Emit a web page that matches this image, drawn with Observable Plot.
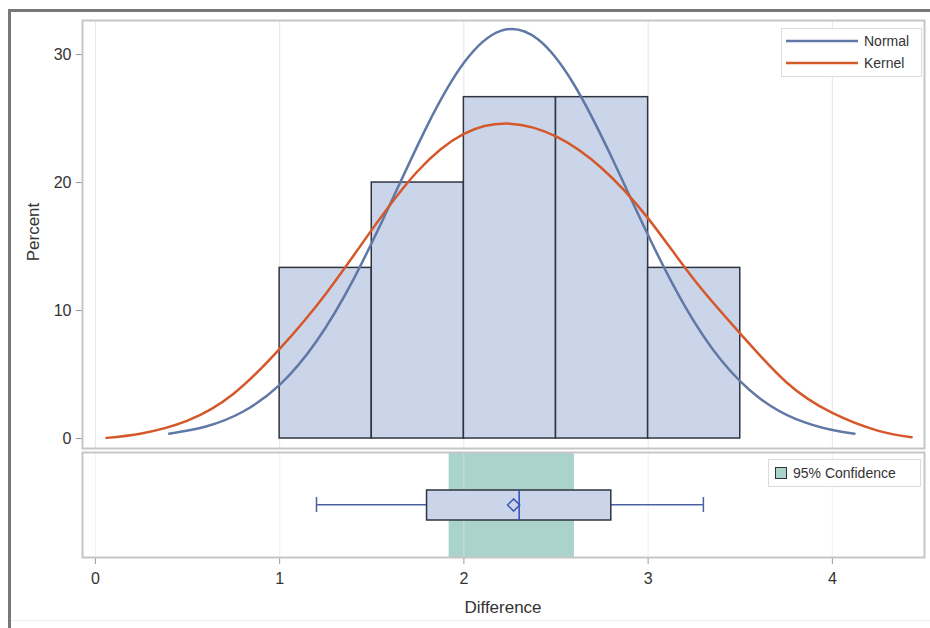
<!DOCTYPE html>
<html>
<head>
<meta charset="utf-8">
<script src="https://cdn.jsdelivr.net/npm/d3@7"></script>
<script src="https://cdn.jsdelivr.net/npm/@observablehq/plot@0.6"></script>
<style>
  body { margin: 0; background: #fff; font-family: "Liberation Sans", Arial, sans-serif; }
  #wrap { position: relative; width: 930px; height: 628px; overflow: hidden; background: #fff; }
  #top, #bottom, #overlay { position: absolute; left: 0; }
  #top { top: 0; }
  #bottom { top: 450px; }
  #overlay { top: 0; pointer-events: none; }
</style>
</head>
<body>
<div id="wrap">
  <div id="top"></div>
  <div id="bottom"></div>
  <svg id="overlay" width="930" height="628"></svg>
</div>
<script>
// ---- data ----
const binStarts = [1.0, 1.5, 2.0, 2.5, 3.0];
const binEnds   = [1.5, 2.0, 2.5, 3.0, 3.5];
const percents  = [13.33, 20.0, 26.67, 26.67, 13.33];

const normalX = [0.4, 0.6, 0.8, 1.0, 1.2, 1.4, 1.6, 1.8, 2.0, 2.2, 2.4, 2.6, 2.8, 3.0, 3.2, 3.4, 3.6, 3.8, 4.0, 4.12];
const normalY = [0.38, 0.94, 2.09, 4.19, 7.6, 12.42, 18.32, 24.41, 29.35, 31.85, 31.21, 27.6, 22.03, 15.88, 10.33, 6.06, 3.21, 1.54, 0.66, 0.38];

const kernelX = [0.06, 0.25, 0.5, 0.75, 1.0, 1.25, 1.5, 1.75, 2.0, 2.25, 2.5, 2.75, 3.0, 3.25, 3.5, 3.75, 4.0, 4.25, 4.43];
const kernelY = [0.05, 0.4, 1.4, 3.5, 7.0, 11.3, 16.3, 20.9, 23.8, 24.6, 23.6, 21.1, 17.2, 12.4, 8.2, 4.4, 2.0, 0.6, 0.1];

// box plot: min, Q1, median, Q3, max
const boxValues = [1.2, 1.8, 2.3, 2.8, 3.3];
const meanValue = [2.27];
const ciBounds  = [1.92, 2.60];

const xTicks = [0, 1, 2, 3, 4];
const yTicks = [0, 10, 20, 30];
const seriesNames = ["Normal", "Kernel"];
const ciLabel = "95% Confidence";
const xTitle = "Difference";
const yTitle = "Percent";

// ---- colours ----
const barFill = "#cbd5e9", barStroke = "#2f3440";
const normalColor = "#5f78a6", kernelColor = "#d5582a";
const ciColor = "#a9d3cb";
const whiskerColor = "#4a62a5", medianColor = "#2f4fb8", meanColor = "#3d5cb8";
const frameColor = "#c6c6c6", gridColor = "#e6e6e6", textColor = "#333";
const font = "'Liberation Sans', Arial, sans-serif";

// ---- derived tables ----
const bins = binStarts.map((s, i) => ({x1: s, x2: binEnds[i], y: percents[i]}));
const normal = normalX.map((x, i) => ({x, y: normalY[i]}));
const kernel = kernelX.map((x, i) => ({x, y: kernelY[i]}));
const [bMin, bQ1, bMed, bQ3, bMax] = boxValues;
const whiskers = [{a: bMin, b: bQ1}, {a: bQ3, b: bMax}];
const box = [{a: bQ1, b: bQ3}];
const ci = [{a: ciBounds[0], b: ciBounds[1]}];

const xDomain = [-0.07, 4.5];
const common = {
  width: 930, marginLeft: 82, marginRight: 6,
  style: {fontFamily: font, fontSize: "16px", color: textColor, background: "transparent", overflow: "visible"}
};

const topPlot = Plot.plot({
  ...common,
  height: 450, marginTop: 20, marginBottom: 2,
  x: {domain: xDomain, axis: null},
  y: {domain: [-0.78, 32.66], axis: null},
  marks: [
    Plot.gridX(xTicks, {stroke: gridColor, strokeOpacity: 1}),
    Plot.rect(bins, {x1: "x1", x2: "x2", y1: 0, y2: "y", fill: barFill, stroke: barStroke, strokeWidth: 1.5}),
    Plot.line(normal, {x: "x", y: "y", stroke: normalColor, strokeWidth: 2.5, curve: "natural"}),
    Plot.line(kernel, {x: "x", y: "y", stroke: kernelColor, strokeWidth: 2.5, curve: "natural"}),
    Plot.axisY(yTicks, {tickSize: 6, tickPadding: 5, label: null, stroke: "#999", fill: textColor, tickFormat: d3.format("d")}),
    Plot.frame({stroke: frameColor, strokeWidth: 2})
  ]
});
document.getElementById("top").appendChild(topPlot);

const bottomPlot = Plot.plot({
  ...common,
  height: 178, marginTop: 2, marginBottom: 71,
  x: {domain: xDomain},
  marks: [
    Plot.barX(ci, {x1: "a", x2: "b", fill: ciColor}),
    Plot.gridX(xTicks, {stroke: "#e6e6e6", strokeOpacity: 0.6}),
    Plot.barX(whiskers, {x1: "a", x2: "b", insetTop: 52, insetBottom: 51.5, fill: whiskerColor}),
    Plot.tickX([bMin, bMax], {x: d => d, insetTop: 45, insetBottom: 45, stroke: whiskerColor, strokeWidth: 1.5}),
    Plot.barX(box, {x1: "a", x2: "b", insetTop: 38, insetBottom: 37, fill: barFill, stroke: barStroke, strokeWidth: 1.5}),
    Plot.tickX([bMed], {x: d => d, insetTop: 38, insetBottom: 37, stroke: medianColor, strokeWidth: 1.5}),
    Plot.dot(meanValue, {x: d => d, frameAnchor: "middle", symbol: "diamond2", r: 5.5, stroke: meanColor, fill: "none", strokeWidth: 1.5}),
    Plot.axisX(xTicks, {tickSize: 7, tickPadding: 8, label: null, stroke: "#999", fill: textColor, tickFormat: d3.format("d")}),
    Plot.frame({stroke: frameColor, strokeWidth: 2})
  ]
});
document.getElementById("bottom").appendChild(bottomPlot);

// ---- overlay: outer frame, legends, axis titles ----
const svg = d3.select("#overlay");
svg.append("rect").attr("x", 8).attr("y", 9).attr("width", 922).attr("height", 3).attr("fill", "#777");
svg.append("rect").attr("x", 8).attr("y", 9).attr("width", 3).attr("height", 619).attr("fill", "#777");
svg.append("line").attr("x1", 11).attr("x2", 930).attr("y1", 620.5).attr("y2", 620.5).attr("stroke", "#eee");

// top legend
svg.append("rect").attr("x", 781.5).attr("y", 28.5).attr("width", 140).attr("height", 48)
  .attr("fill", "#fff").attr("fill-opacity", 0.92).attr("stroke", "#dcdcdc");
[normalColor, kernelColor].forEach((c, i) => {
  const y = 41 + i * 22;
  svg.append("line").attr("x1", 786).attr("x2", 858).attr("y1", y).attr("y2", y)
    .attr("stroke", c).attr("stroke-width", 2.5);
  svg.append("text").attr("x", 864).attr("y", y).attr("dy", "0.35em")
    .attr("font-family", font).attr("font-size", 14).attr("fill", textColor).text(seriesNames[i]);
});

// bottom legend
svg.append("rect").attr("x", 768.5).attr("y", 459.5).attr("width", 152).attr("height", 27)
  .attr("fill", "#fff").attr("fill-opacity", 0.92).attr("stroke", "#dcdcdc");
svg.append("rect").attr("x", 775.5).attr("y", 467.5).attr("width", 11).attr("height", 11)
  .attr("fill", ciColor).attr("stroke", "#333");
svg.append("text").attr("x", 793).attr("y", 473).attr("dy", "0.35em")
  .attr("font-family", font).attr("font-size", 14).attr("fill", textColor).text(ciLabel);

// axis titles
svg.append("text").attr("transform", "translate(33,232) rotate(-90)").attr("text-anchor", "middle")
  .attr("dy", "0.35em").attr("font-family", font).attr("font-size", 17).attr("fill", textColor).text(yTitle);
svg.append("text").attr("x", 503).attr("y", 607).attr("text-anchor", "middle")
  .attr("dy", "0.35em").attr("font-family", font).attr("font-size", 17).attr("fill", textColor).text(xTitle);
</script>
</body>
</html>
